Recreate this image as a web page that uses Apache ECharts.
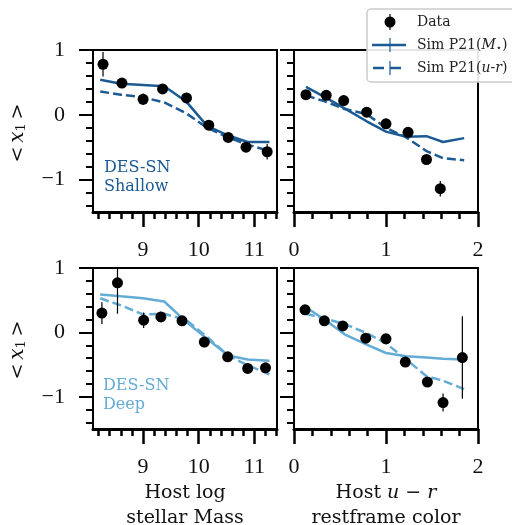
<!DOCTYPE html>
<html>
<head>
<meta charset="utf-8">
<script src="https://cdn.jsdelivr.net/npm/echarts@6/dist/echarts.min.js"></script>
<style>
  html, body { margin: 0; padding: 0; background: #ffffff; }
  #chart { width: 512px; height: 525px; }
</style>
</head>
<body>
<div id="chart"></div>
<script>
// ---- data ----
// Shallow, host mass
var shMassX = [8.28, 8.62, 9.00, 9.35, 9.78, 10.18, 10.53, 10.85, 11.23];
var shMassY = [0.78, 0.49, 0.24, 0.40, 0.26, -0.16, -0.35, -0.50, -0.57];
var shMassErr = [0.19, 0.07, 0.09, 0.05, 0.05, 0.04, 0.04, 0.05, 0.12];
// Shallow, host u-r
var shColorX = [0.13, 0.35, 0.54, 0.79, 1.00, 1.24, 1.44, 1.59];
var shColorY = [0.31, 0.30, 0.22, 0.04, -0.14, -0.27, -0.69, -1.14];
var shColorErr = [0.06, 0.04, 0.04, 0.04, 0.05, 0.05, 0.06, 0.12];
// Deep, host mass
var dpMassX = [8.26, 8.54, 9.01, 9.32, 9.70, 10.10, 10.52, 10.88, 11.20];
var dpMassY = [0.30, 0.77, 0.19, 0.24, 0.18, -0.15, -0.38, -0.56, -0.55];
var dpMassErr = [0.17, 0.48, 0.12, 0.08, 0.05, 0.08, 0.05, 0.04, 0.06];
// Deep, host u-r
var dpColorX = [0.12, 0.33, 0.53, 0.78, 1.00, 1.21, 1.45, 1.62, 1.83];
var dpColorY = [0.35, 0.18, 0.10, -0.09, -0.10, -0.46, -0.77, -1.09, -0.39];
var dpColorErr = [0.06, 0.05, 0.07, 0.06, 0.08, 0.06, 0.05, 0.14, 0.64];

// simulations (bin centres)
var simMassX = [8.23, 8.60, 9.00, 9.38, 9.78, 10.15, 10.53, 10.88, 11.27];
var simColorX = [0.13, 0.35, 0.55, 0.79, 1.00, 1.22, 1.44, 1.62, 1.85];
var shMassSimM = [0.54, 0.48, 0.46, 0.44, 0.20, -0.17, -0.32, -0.42, -0.42];
var shMassSimUR = [0.36, 0.31, 0.27, 0.19, 0.02, -0.20, -0.35, -0.46, -0.56];
var shColorSimM = [0.43, 0.26, 0.10, -0.10, -0.26, -0.34, -0.33, -0.42, -0.36];
var shColorSimUR = [0.30, 0.20, 0.09, 0.01, -0.20, -0.35, -0.56, -0.67, -0.70];
var dpMassSimM = [0.59, 0.56, 0.53, 0.48, 0.16, -0.10, -0.36, -0.42, -0.44];
var dpMassSimUR = [0.53, 0.42, 0.28, 0.29, 0.19, -0.07, -0.36, -0.51, -0.65];
var dpColorSimM = [0.39, 0.18, -0.03, -0.19, -0.32, -0.37, -0.39, -0.41, -0.42];
var dpColorSimUR = [0.29, 0.21, 0.13, -0.01, -0.17, -0.42, -0.68, -0.75, -0.88];

// tick labels
var massMajor = [9, 10, 11];
var colorMajor = [0, 1, 2];
var yMajor = [-1, 0, 1];

function steps(a, b, s) {
  var out = [];
  for (var v = a; v <= b + 1e-9; v += s) out.push(Math.round(v * 10) / 10);
  return out;
}
var massMinor = steps(8.2, 11.4, 0.2);
var colorMinor = steps(0, 2, 0.2);
var yMinor = steps(-1.4, 1, 0.2);

var SHALLOW = "#1c5a94";
var DEEP = "#63acd6";
var TICKFONT = "Liberation Serif";
var FONT = "DejaVu Serif";

var chart = echarts.init(document.getElementById("chart"));

var grids = [
  { left: 93, top: 50, width: 184, height: 162 },
  { left: 294, top: 50, width: 184, height: 162 },
  { left: 93, top: 268, width: 184, height: 161 },
  { left: 294, top: 268, width: 184, height: 161 }
];
grids.forEach(function (g) {
  g.show = true;
  g.borderColor = "#000";
  g.borderWidth = 2;
  g.containLabel = false;
});

var xAxes = [];
var yAxes = [];
function minus(v) {
  return String(v).replace("-", "\u2212");
}
function addAxes(gi, isMass, showYLabels) {
  var xmin = isMass ? 8.1 : 0;
  var xmax = isMass ? 8.1 + 184 / 55.65 : 2;
  // major x
  xAxes.push({
    gridIndex: gi, type: "value", position: "bottom", min: xmin, max: xmax,
    splitLine: { show: false },
    axisLine: { show: true, onZero: false, lineStyle: { color: "#000", width: 3 } },
    axisTick: { show: true, length: 15, customValues: isMass ? massMajor : colorMajor, lineStyle: { color: "#000", width: 2.5 } },
    axisLabel: { show: true, margin: 27, customValues: isMass ? massMajor : colorMajor, fontFamily: TICKFONT, fontSize: 22, color: "#111" }
  });
  // minor x
  xAxes.push({
    gridIndex: gi, type: "value", position: "bottom", min: xmin, max: xmax,
    splitLine: { show: false },
    axisLine: { show: false, onZero: false },
    axisTick: { show: true, length: 7, customValues: isMass ? massMinor : colorMinor, lineStyle: { color: "#000", width: 2.5 } },
    axisLabel: { show: false }
  });
  // major y
  yAxes.push({
    gridIndex: gi, type: "value", position: "left", min: -1.5, max: 1,
    splitLine: { show: false },
    axisLine: { show: true, onZero: false, lineStyle: { color: "#000", width: 2 } },
    axisTick: { show: true, length: 14, customValues: yMajor, lineStyle: { color: "#000", width: 2 } },
    axisLabel: {
      show: showYLabels, margin: 28, customValues: yMajor, fontFamily: TICKFONT, fontSize: 22, color: "#111",
      formatter: function (v) { return minus(v); }
    }
  });
  // minor y
  yAxes.push({
    gridIndex: gi, type: "value", position: "left", min: -1.5, max: 1,
    splitLine: { show: false },
    axisLine: { show: false, onZero: false },
    axisTick: { show: true, length: 7, customValues: yMinor, lineStyle: { color: "#000", width: 2 } },
    axisLabel: { show: false }
  });
}
addAxes(0, true, true);
addAxes(1, false, false);
addAxes(2, true, true);
addAxes(3, false, false);

function pairs(xs, ys) {
  return xs.map(function (x, i) { return [x, ys[i]]; });
}

var series = [];
function addPanel(gi, dx, dy, derr, sx, simM, simUR, color) {
  var xi = gi * 2, yi = gi * 2;
  series.push({
    type: "line", xAxisIndex: xi, yAxisIndex: yi, data: pairs(sx, simM),
    symbol: "none", lineStyle: { color: color, width: 2.5 }, z: 2, silent: true
  });
  series.push({
    type: "line", xAxisIndex: xi, yAxisIndex: yi, data: pairs(sx, simUR),
    symbol: "none", lineStyle: { color: color, width: 2.5, type: [9, 4] }, z: 2, silent: true
  });
  series.push({
    type: "custom", xAxisIndex: xi, yAxisIndex: yi, z: 3, silent: true,
    data: dx.map(function (x, i) { return [x, dy[i] - derr[i], dy[i] + derr[i]]; }),
    renderItem: function (params, api) {
      var lo = api.coord([api.value(0), api.value(1)]);
      var hi = api.coord([api.value(0), api.value(2)]);
      var cs = params.coordSys;
      var top = Math.max(hi[1], cs.y);
      var bot = Math.min(lo[1], cs.y + cs.height);
      return {
        type: "line",
        shape: { x1: lo[0], y1: bot, x2: hi[0], y2: top },
        style: { stroke: "#000", lineWidth: 1.2 }
      };
    }
  });
  series.push({
    type: "scatter", xAxisIndex: xi, yAxisIndex: yi, data: pairs(dx, dy),
    symbol: "circle", symbolSize: 11, itemStyle: { color: "#000", opacity: 1 }, z: 4, silent: true
  });
}
addPanel(0, shMassX, shMassY, shMassErr, simMassX, shMassSimM, shMassSimUR, SHALLOW);
addPanel(1, shColorX, shColorY, shColorErr, simColorX, shColorSimM, shColorSimUR, SHALLOW);
addPanel(2, dpMassX, dpMassY, dpMassErr, simMassX, dpMassSimM, dpMassSimUR, DEEP);
addPanel(3, dpColorX, dpColorY, dpColorErr, simColorX, dpColorSimM, dpColorSimUR, DEEP);

var ylabRich = {
  a: { fontFamily: FONT, fontSize: 19, fill: "#111" },
  i: { fontFamily: FONT, fontSize: 20, fontStyle: "italic", fill: "#111" },
  s: { fontFamily: FONT, fontSize: 13, fill: "#111", padding: [8, 0, 0, 0] }
};
var legRich = {
  a: { fontFamily: FONT, fontSize: 14, fill: "#222" },
  i: { fontFamily: FONT, fontSize: 14, fontStyle: "italic", fill: "#222" },
  s: { fontFamily: "DejaVu Sans", fontSize: 10, fill: "#222", padding: [6, 0, 0, 0] }
};

var graphics = [
  // y labels
  { type: "text", x: 18, y: 133, rotation: Math.PI / 2,
    style: { text: "{a|<\u2009}{i|x}{s|1}{a|\u2009>}", rich: ylabRich, textAlign: "center", textVerticalAlign: "middle" } },
  { type: "text", x: 18, y: 350, rotation: Math.PI / 2,
    style: { text: "{a|<\u2009}{i|x}{s|1}{a|\u2009>}", rich: ylabRich, textAlign: "center", textVerticalAlign: "middle" } },
  // x labels
  { type: "text", x: 185, y: 481,
    style: { text: "Host log\nstellar Mass", font: "19px " + FONT, fill: "#111", textAlign: "center", lineHeight: 25 } },
  { type: "text", x: 386, y: 481,
    style: { text: "{a|Host }{i|u}{a| \u2212 }{i|r}\n{a|restframe color}", textAlign: "center",
      rich: { a: { fontFamily: FONT, fontSize: 19, fill: "#111", lineHeight: 25 }, i: { fontFamily: FONT, fontSize: 19, fontStyle: "italic", fill: "#111", lineHeight: 25 } } } },
  // panel tags
  { type: "text", x: 104, y: 159,
    style: { text: "DES-SN\nShallow", font: "16px " + FONT, fill: SHALLOW, lineHeight: 18.5 } },
  { type: "text", x: 103, y: 376,
    style: { text: "DES-SN\nDeep", font: "16px " + FONT, fill: DEEP, lineHeight: 19.5 } },
  // legend
  { type: "rect", shape: { x: 367, y: 9, width: 150, height: 73, r: 4 },
    style: { fill: "rgba(255,255,255,0.9)", stroke: "#cccccc", lineWidth: 1.5 }, z: 100 },
  { type: "line", shape: { x1: 390, y1: 14, x2: 390, y2: 30 }, style: { stroke: "#000", lineWidth: 1.2 }, z: 101 },
  { type: "circle", shape: { cx: 390, cy: 22, r: 5.5 }, style: { fill: "#000" }, z: 101 },
  { type: "line", shape: { x1: 372, y1: 45, x2: 406, y2: 45 }, style: { stroke: SHALLOW, lineWidth: 2.5 }, z: 101 },
  { type: "line", shape: { x1: 390, y1: 38, x2: 390, y2: 52 }, style: { stroke: SHALLOW, lineWidth: 1.2 }, z: 101 },
  { type: "line", shape: { x1: 373, y1: 68, x2: 406, y2: 68 }, style: { stroke: SHALLOW, lineWidth: 2.5, lineDash: [11, 6] }, z: 101 },
  { type: "line", shape: { x1: 390, y1: 61, x2: 390, y2: 75 }, style: { stroke: SHALLOW, lineWidth: 1.2 }, z: 101 },
  { type: "text", x: 417, y: 22, z: 101,
    style: { text: "Data", font: "14px " + FONT, fill: "#222", textVerticalAlign: "middle" } },
  { type: "text", x: 417, y: 45, z: 101,
    style: { text: "{a|Sim P21(}{i|M}{s|\u22c6}{a|)}", rich: legRich, textVerticalAlign: "middle" } },
  { type: "text", x: 417, y: 68, z: 101,
    style: { text: "{a|Sim P21(}{i|u}{a|-}{i|r}{a|)}", rich: legRich, textVerticalAlign: "middle" } }
];

chart.setOption({
  animation: false,
  grid: grids,
  xAxis: xAxes,
  yAxis: yAxes,
  series: series,
  graphic: graphics
});
</script>
</body>
</html>
